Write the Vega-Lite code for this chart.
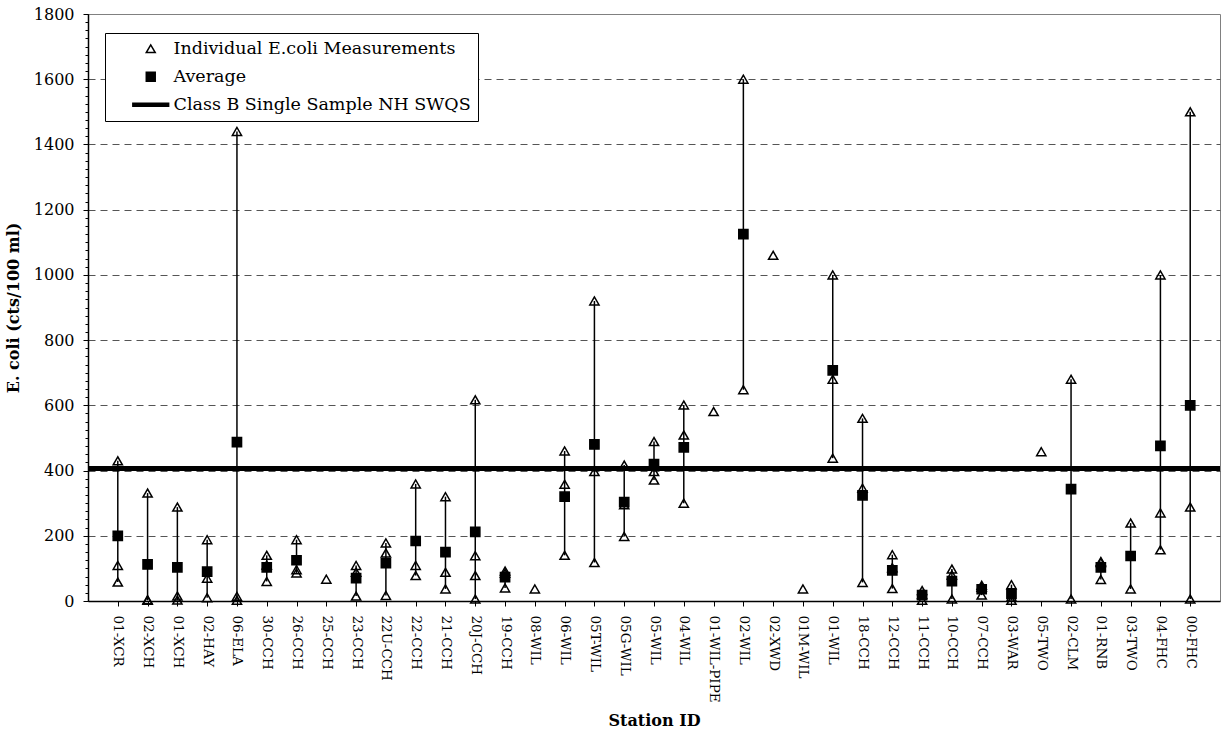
{
  "$schema": "https://vega.github.io/schema/vega-lite/v6.json",
  "width": 1132,
  "height": 587,
  "autosize": {"type": "none"},
  "padding": {"left": 88, "top": 14, "right": 1, "bottom": 131},
  "background": "white",
  "config": {
    "font": "DejaVu Serif",
    "view": {"stroke": "#808080", "strokeWidth": 1},
    "axis": {"labelFont": "DejaVu Serif", "titleFont": "DejaVu Serif", "labelColor": "black", "titleColor": "black", "domainColor": "black", "tickColor": "black"}
  },
  "data": {"values": [
    {"station": "01-XCR", "series": "Individual E.coli Measurements", "value": 430},
    {"station": "01-XCR", "series": "Individual E.coli Measurements", "value": 109},
    {"station": "01-XCR", "series": "Individual E.coli Measurements", "value": 58},
    {"station": "02-XCH", "series": "Individual E.coli Measurements", "value": 331},
    {"station": "02-XCH", "series": "Individual E.coli Measurements", "value": 4},
    {"station": "02-XCH", "series": "Individual E.coli Measurements", "value": 2},
    {"station": "01-XCH", "series": "Individual E.coli Measurements", "value": 288},
    {"station": "01-XCH", "series": "Individual E.coli Measurements", "value": 15},
    {"station": "01-XCH", "series": "Individual E.coli Measurements", "value": 3},
    {"station": "02-HAY", "series": "Individual E.coli Measurements", "value": 188},
    {"station": "02-HAY", "series": "Individual E.coli Measurements", "value": 70},
    {"station": "02-HAY", "series": "Individual E.coli Measurements", "value": 10},
    {"station": "06-ELA", "series": "Individual E.coli Measurements", "value": 1440},
    {"station": "06-ELA", "series": "Individual E.coli Measurements", "value": 14},
    {"station": "06-ELA", "series": "Individual E.coli Measurements", "value": 2},
    {"station": "30-CCH", "series": "Individual E.coli Measurements", "value": 140},
    {"station": "30-CCH", "series": "Individual E.coli Measurements", "value": 110},
    {"station": "30-CCH", "series": "Individual E.coli Measurements", "value": 60},
    {"station": "26-CCH", "series": "Individual E.coli Measurements", "value": 188},
    {"station": "26-CCH", "series": "Individual E.coli Measurements", "value": 96},
    {"station": "26-CCH", "series": "Individual E.coli Measurements", "value": 86},
    {"station": "25-CCH", "series": "Individual E.coli Measurements", "value": 67},
    {"station": "23-CCH", "series": "Individual E.coli Measurements", "value": 109},
    {"station": "23-CCH", "series": "Individual E.coli Measurements", "value": 88},
    {"station": "23-CCH", "series": "Individual E.coli Measurements", "value": 15},
    {"station": "22U-CCH", "series": "Individual E.coli Measurements", "value": 178},
    {"station": "22U-CCH", "series": "Individual E.coli Measurements", "value": 147},
    {"station": "22U-CCH", "series": "Individual E.coli Measurements", "value": 17},
    {"station": "22-CCH", "series": "Individual E.coli Measurements", "value": 359},
    {"station": "22-CCH", "series": "Individual E.coli Measurements", "value": 109},
    {"station": "22-CCH", "series": "Individual E.coli Measurements", "value": 78},
    {"station": "21-CCH", "series": "Individual E.coli Measurements", "value": 320},
    {"station": "21-CCH", "series": "Individual E.coli Measurements", "value": 88},
    {"station": "21-CCH", "series": "Individual E.coli Measurements", "value": 37},
    {"station": "20J-CCH", "series": "Individual E.coli Measurements", "value": 617},
    {"station": "20J-CCH", "series": "Individual E.coli Measurements", "value": 139},
    {"station": "20J-CCH", "series": "Individual E.coli Measurements", "value": 78},
    {"station": "20J-CCH", "series": "Individual E.coli Measurements", "value": 6},
    {"station": "19-CCH", "series": "Individual E.coli Measurements", "value": 92},
    {"station": "19-CCH", "series": "Individual E.coli Measurements", "value": 85},
    {"station": "19-CCH", "series": "Individual E.coli Measurements", "value": 40},
    {"station": "08-WIL", "series": "Individual E.coli Measurements", "value": 37},
    {"station": "06-WIL", "series": "Individual E.coli Measurements", "value": 460},
    {"station": "06-WIL", "series": "Individual E.coli Measurements", "value": 358},
    {"station": "06-WIL", "series": "Individual E.coli Measurements", "value": 140},
    {"station": "05T-WIL", "series": "Individual E.coli Measurements", "value": 920},
    {"station": "05T-WIL", "series": "Individual E.coli Measurements", "value": 397},
    {"station": "05T-WIL", "series": "Individual E.coli Measurements", "value": 118},
    {"station": "05G-WIL", "series": "Individual E.coli Measurements", "value": 417},
    {"station": "05G-WIL", "series": "Individual E.coli Measurements", "value": 295},
    {"station": "05G-WIL", "series": "Individual E.coli Measurements", "value": 198},
    {"station": "05-WIL", "series": "Individual E.coli Measurements", "value": 489},
    {"station": "05-WIL", "series": "Individual E.coli Measurements", "value": 397},
    {"station": "05-WIL", "series": "Individual E.coli Measurements", "value": 371},
    {"station": "04-WIL", "series": "Individual E.coli Measurements", "value": 601},
    {"station": "04-WIL", "series": "Individual E.coli Measurements", "value": 509},
    {"station": "04-WIL", "series": "Individual E.coli Measurements", "value": 300},
    {"station": "01-WIL-PIPE", "series": "Individual E.coli Measurements", "value": 581},
    {"station": "02-WIL", "series": "Individual E.coli Measurements", "value": 1600},
    {"station": "02-WIL", "series": "Individual E.coli Measurements", "value": 648},
    {"station": "02-XWD", "series": "Individual E.coli Measurements", "value": 1060},
    {"station": "01M-WIL", "series": "Individual E.coli Measurements", "value": 37},
    {"station": "01-WIL", "series": "Individual E.coli Measurements", "value": 1000},
    {"station": "01-WIL", "series": "Individual E.coli Measurements", "value": 680},
    {"station": "01-WIL", "series": "Individual E.coli Measurements", "value": 438},
    {"station": "18-CCH", "series": "Individual E.coli Measurements", "value": 560},
    {"station": "18-CCH", "series": "Individual E.coli Measurements", "value": 346},
    {"station": "18-CCH", "series": "Individual E.coli Measurements", "value": 57},
    {"station": "12-CCH", "series": "Individual E.coli Measurements", "value": 142},
    {"station": "12-CCH", "series": "Individual E.coli Measurements", "value": 102},
    {"station": "12-CCH", "series": "Individual E.coli Measurements", "value": 38},
    {"station": "11-CCH", "series": "Individual E.coli Measurements", "value": 32},
    {"station": "11-CCH", "series": "Individual E.coli Measurements", "value": 20},
    {"station": "11-CCH", "series": "Individual E.coli Measurements", "value": 2},
    {"station": "10-CCH", "series": "Individual E.coli Measurements", "value": 98},
    {"station": "10-CCH", "series": "Individual E.coli Measurements", "value": 80},
    {"station": "10-CCH", "series": "Individual E.coli Measurements", "value": 6},
    {"station": "07-CCH", "series": "Individual E.coli Measurements", "value": 48},
    {"station": "07-CCH", "series": "Individual E.coli Measurements", "value": 42},
    {"station": "07-CCH", "series": "Individual E.coli Measurements", "value": 18},
    {"station": "03-WAR", "series": "Individual E.coli Measurements", "value": 50},
    {"station": "03-WAR", "series": "Individual E.coli Measurements", "value": 12},
    {"station": "03-WAR", "series": "Individual E.coli Measurements", "value": 2},
    {"station": "05-TWO", "series": "Individual E.coli Measurements", "value": 458},
    {"station": "02-CLM", "series": "Individual E.coli Measurements", "value": 680},
    {"station": "02-CLM", "series": "Individual E.coli Measurements", "value": 6},
    {"station": "01-RNB", "series": "Individual E.coli Measurements", "value": 121},
    {"station": "01-RNB", "series": "Individual E.coli Measurements", "value": 118},
    {"station": "01-RNB", "series": "Individual E.coli Measurements", "value": 66},
    {"station": "03-TWO", "series": "Individual E.coli Measurements", "value": 239},
    {"station": "03-TWO", "series": "Individual E.coli Measurements", "value": 37},
    {"station": "04-FHC", "series": "Individual E.coli Measurements", "value": 1000},
    {"station": "04-FHC", "series": "Individual E.coli Measurements", "value": 270},
    {"station": "04-FHC", "series": "Individual E.coli Measurements", "value": 157},
    {"station": "00-FHC", "series": "Individual E.coli Measurements", "value": 1500},
    {"station": "00-FHC", "series": "Individual E.coli Measurements", "value": 288},
    {"station": "00-FHC", "series": "Individual E.coli Measurements", "value": 6},
    {"station": "01-XCR", "series": "Average", "value": 200},
    {"station": "02-XCH", "series": "Average", "value": 112},
    {"station": "01-XCH", "series": "Average", "value": 103},
    {"station": "02-HAY", "series": "Average", "value": 90},
    {"station": "06-ELA", "series": "Average", "value": 487},
    {"station": "30-CCH", "series": "Average", "value": 103},
    {"station": "26-CCH", "series": "Average", "value": 125},
    {"station": "23-CCH", "series": "Average", "value": 70},
    {"station": "22U-CCH", "series": "Average", "value": 116},
    {"station": "22-CCH", "series": "Average", "value": 184},
    {"station": "21-CCH", "series": "Average", "value": 150},
    {"station": "20J-CCH", "series": "Average", "value": 212},
    {"station": "19-CCH", "series": "Average", "value": 73},
    {"station": "06-WIL", "series": "Average", "value": 320},
    {"station": "05T-WIL", "series": "Average", "value": 480},
    {"station": "05G-WIL", "series": "Average", "value": 303},
    {"station": "05-WIL", "series": "Average", "value": 420},
    {"station": "04-WIL", "series": "Average", "value": 471},
    {"station": "02-WIL", "series": "Average", "value": 1125},
    {"station": "01-WIL", "series": "Average", "value": 707},
    {"station": "18-CCH", "series": "Average", "value": 324},
    {"station": "12-CCH", "series": "Average", "value": 94},
    {"station": "11-CCH", "series": "Average", "value": 18},
    {"station": "10-CCH", "series": "Average", "value": 61},
    {"station": "07-CCH", "series": "Average", "value": 36},
    {"station": "03-WAR", "series": "Average", "value": 22},
    {"station": "02-CLM", "series": "Average", "value": 343},
    {"station": "01-RNB", "series": "Average", "value": 103},
    {"station": "03-TWO", "series": "Average", "value": 138},
    {"station": "04-FHC", "series": "Average", "value": 476},
    {"station": "00-FHC", "series": "Average", "value": 600},
    {"station": null, "series": "Class B Single Sample NH SWQS", "value": 406}
  ]},
  "layer": [
    {
      "transform": [{"filter": "datum.series === 'Class B Single Sample NH SWQS'"}],
      "mark": {"type": "rule", "color": "black", "strokeWidth": 5},
      "encoding": {
        "y": {"field": "value", "type": "quantitative",
          "axis": {"orient": "left", "title": null, "labels": false, "domain": false, "grid": false, "ticks": true, "tickSize": 3, "tickColor": "black",
            "values": [0,25,50,75,100,125,150,175,200,225,250,275,300,325,350,375,400,425,450,475,500,525,550,575,600,625,650,675,700,725,750,775,800,825,850,875,900,925,950,975,1000,1025,1050,1075,1100,1125,1150,1175,1200,1225,1250,1275,1300,1325,1350,1375,1400,1425,1450,1475,1500,1525,1550,1575,1600,1625,1650,1675,1700,1725,1750,1775,1800]}}
      }
    },
    {
      "encoding": {
        "x": {"field": "station", "type": "nominal",
          "scale": {"type": "point", "padding": 1, "domain": ["01-XCR","02-XCH","01-XCH","02-HAY","06-ELA","30-CCH","26-CCH","25-CCH","23-CCH","22U-CCH","22-CCH","21-CCH","20J-CCH","19-CCH","08-WIL","06-WIL","05T-WIL","05G-WIL","05-WIL","04-WIL","01-WIL-PIPE","02-WIL","02-XWD","01M-WIL","01-WIL","18-CCH","12-CCH","11-CCH","10-CCH","07-CCH","03-WAR","05-TWO","02-CLM","01-RNB","03-TWO","04-FHC","00-FHC"]},
          "axis": {"title": "Station ID", "labelAngle": 90, "labelFontSize": 13.5, "labelPadding": 9, "tickSize": 5, "domainWidth": 1.5, "titleFontSize": 16, "titleFontWeight": "bold", "titleY": 119, "titleBaseline": "middle"}}
      },
      "layer": [
        {
          "transform": [{"filter": "datum.series === 'Individual E.coli Measurements'"}],
          "mark": {"type": "rule", "color": "black", "strokeWidth": 1.5},
          "encoding": {
            "y": {"aggregate": "min", "field": "value", "type": "quantitative", "title": "E. coli (cts/100 ml)", "axis": {"orient": "left", "format": "d"}},
            "y2": {"aggregate": "max", "field": "value"}
          }
        },
        {
          "transform": [{"filter": "datum.series !== 'Class B Single Sample NH SWQS'"}],
          "mark": {"type": "point", "filled": true, "strokeWidth": 1.5, "opacity": 1, "size": 85},
          "encoding": {
            "y": {"field": "value", "type": "quantitative",
              "scale": {"domain": [0, 1800], "nice": false, "zero": true},
              "axis": {"orient": "left", "format": "d", "title": "E. coli (cts/100 ml)", "values": [0,200,400,600,800,1000,1200,1400,1600,1800], "labelFontSize": 16, "tickSize": 5, "labelPadding": 9, "domainWidth": 1.5,
                "titleFontSize": 16, "titleFontWeight": "bold", "titlePadding": 12,
                "grid": true, "gridColor": "#555555", "gridDash": [7, 5],
                "gridOpacity": {"condition": {"test": "datum.value === 0 || datum.value === 1800", "value": 0}, "value": 1}}},
            "shape": {"field": "series", "type": "nominal",
              "scale": {"domain": ["Individual E.coli Measurements", "Average", "Class B Single Sample NH SWQS"], "range": ["triangle-up", "square", "M-4,-0.35H4V0.35H-4Z"]},
              "legend": {"title": null, "orient": "none", "legendX": 17, "legendY": 19, "padding": 7, "strokeColor": "black", "fillColor": "white", "cornerRadius": 0,
                "labelFont": "DejaVu Serif", "labelFontSize": 17.5, "labelColor": "black", "labelOffset": 14, "symbolOffset": 30, "rowPadding": 9,
                "symbolStrokeWidth": 1.5, "symbolSize": 80, "labelLimit": 400}},
            "fill": {"field": "series", "type": "nominal",
              "scale": {"domain": ["Individual E.coli Measurements", "Average", "Class B Single Sample NH SWQS"], "range": ["transparent", "black", "black"]}},
            "stroke": {"field": "series", "type": "nominal",
              "scale": {"domain": ["Individual E.coli Measurements", "Average", "Class B Single Sample NH SWQS"], "range": ["black", "black", "black"]}}
          }
        }
      ]
    }
  ],
  "resolve": {"axis": {"y": "independent"}}
}
